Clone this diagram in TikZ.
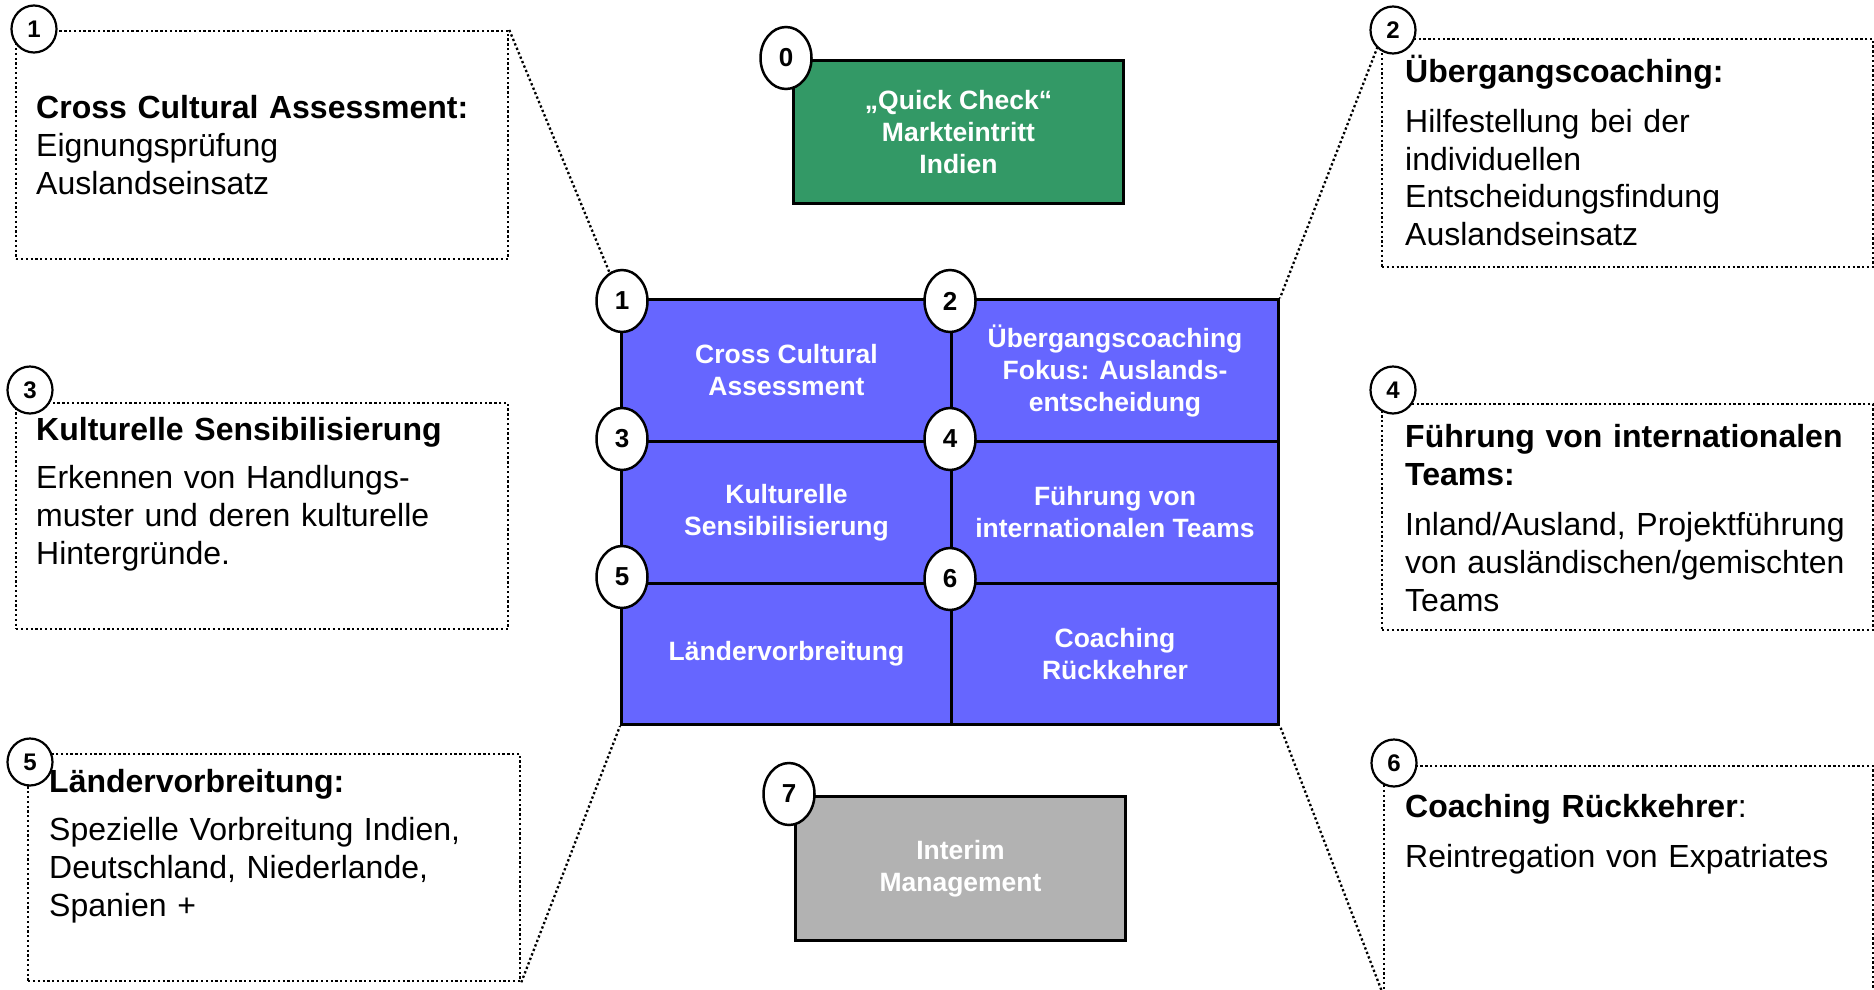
\documentclass[tikz,border=0pt]{standalone}
\usepackage{fontspec}
\setmainfont{Liberation Sans}
\usetikzlibrary{shapes.geometric}
\pgfdeclarelayer{background}
\pgfsetlayers{background,main}
\definecolor{cellblue}{RGB}{102,102,255}
\definecolor{checkgreen}{RGB}{51,153,102}
\definecolor{interimgray}{RGB}{178,178,178}
\tikzset{
  infobox/.style={draw, rectangle, line width=2.3pt, dash pattern=on 2.3pt off 2.5pt,
    inner sep=0pt, anchor=north west},
  link/.style={line width=2.3pt, dash pattern=on 2.3pt off 2.5pt},
  boxtext/.style={anchor=base west, inner sep=0pt, text width=470pt, align=left,
    font=\fontsize{32}{38}\selectfont},
  cell/.style={draw, rectangle, line width=3pt, fill=cellblue, text=white,
    font=\bfseries\fontsize{26.5}{32}\selectfont, align=center,
    minimum width=330pt, minimum height=142pt, inner sep=0pt, anchor=north west},
  bigbadge/.style={ellipse, draw, line width=2.5pt, fill=white, minimum width=51pt,
    minimum height=62pt, inner sep=0pt, font=\bfseries\fontsize{26}{26}\selectfont},
  smallbadge/.style={ellipse, draw, line width=2.2pt, fill=white, minimum width=45pt,
    minimum height=47pt, inner sep=0pt, font=\bfseries\fontsize{24}{24}\selectfont},
}
\begin{document}
\begin{tikzpicture}[x=1pt, y=-1pt]
\useasboundingbox (0,0) rectangle (1874,990);

% dotted description boxes
\node[infobox, minimum width=492pt, minimum height=228pt] (box1) at (15,30) {};
\node[infobox, minimum width=491pt, minimum height=228pt] (box2) at (1381,38) {};
\node[infobox, minimum width=492pt, minimum height=226pt] (box3) at (15,402) {};
\node[infobox, minimum width=491pt, minimum height=226pt] (box4) at (1381,403) {};
\node[infobox, minimum width=492pt, minimum height=227pt] (box5) at (27,753) {};
\node[infobox, minimum width=489pt, minimum height=227pt] (box6) at (1383,765) {};

% descriptions
\node[boxtext] (txt1) at (36,118) {{\bfseries Cross Cultural Assessment:}\\
  Eignungsprüfung\\ Auslandseinsatz};
\node[boxtext] (txt2) at (1405,82) {{\bfseries Übergangscoaching:}\\[12pt]
  Hilfestellung bei der\\ individuellen\\ Entscheidungsfindung\\ Auslandseinsatz};
\node[boxtext] (txt3) at (36,440) {{\bfseries Kulturelle Sensibilisierung}\\[10pt]
  Erkennen von Handlungs-\\ muster und deren kulturelle\\ Hintergründe.};
\node[boxtext] (txt4) at (1405,447) {{\bfseries Führung von internationalen\\ Teams:}\\[12pt]
  Inland/Ausland, Projektführung\\ von ausländischen/gemischten\\ Teams};
\node[boxtext] (txt5) at (49,792) {{\bfseries Ländervorbreitung:}\\[10pt]
  Spezielle Vorbreitung Indien,\\ Deutschland, Niederlande,\\ Spanien +};
\node[boxtext] (txt6) at (1405,817) {{\bfseries Coaching Rückkehrer}:\\[12pt]
  Reintregation von Expatriates};

% central grid of services
\node[cell] (cell1) at (620,298) {Cross Cultural\\Assessment};
\node[cell, minimum width=327pt] (cell2) at (950,298) {Übergangscoaching\\Fokus: Auslands-\\entscheidung};
\node[cell] (cell3) at (620,440) {Kulturelle\\Sensibilisierung};
\node[cell, minimum width=327pt] (cell4) at (950,440) {Führung von\\internationalen Teams};
\node[cell, minimum height=141pt] (cell5) at (620,582) {Ländervorbreitung};
\node[cell, minimum width=327pt, minimum height=141pt] (cell6) at (950,582) {Coaching\\Rückkehrer};

% leader lines from the boxes to the grid corners, kept underneath the grid
\begin{pgfonlayer}{background}
\draw[link] (box1.north east) -- (cell1.north west);
\draw[link] (box2.north west) -- (cell2.north east);
\draw[link] (box5.south east) -- (cell5.south west);
\draw[link] (box6.south west) -- (cell6.south east);
\end{pgfonlayer}

% quick check and interim management
\node[cell, fill=checkgreen, minimum height=143pt] (quick) at (792,59)
  {„Quick Check“\\Markteintritt\\Indien};
\node[cell, fill=interimgray, minimum height=144pt] (interim) at (794,795)
  {Interim\\Management};

% number badges
\node[bigbadge] (n0) at (786,58) {0};
\node[bigbadge] (n1) at (622,301) {1};
\node[bigbadge] (n2) at (950,301) {2};
\node[bigbadge] (n3) at (622,439) {3};
\node[bigbadge] (n4) at (950,439) {4};
\node[bigbadge] (n5) at (622,577) {5};
\node[bigbadge] (n6) at (950,579) {6};
\node[bigbadge] (n7) at (789,794) {7};

\node[smallbadge] (s1) at (34,29) {1};
\node[smallbadge] (s2) at (1393,30) {2};
\node[smallbadge] (s3) at (30,390) {3};
\node[smallbadge] (s4) at (1393,390) {4};
\node[smallbadge] (s5) at (30,762) {5};
\node[smallbadge] (s6) at (1394,763) {6};
\end{tikzpicture}
\end{document}
